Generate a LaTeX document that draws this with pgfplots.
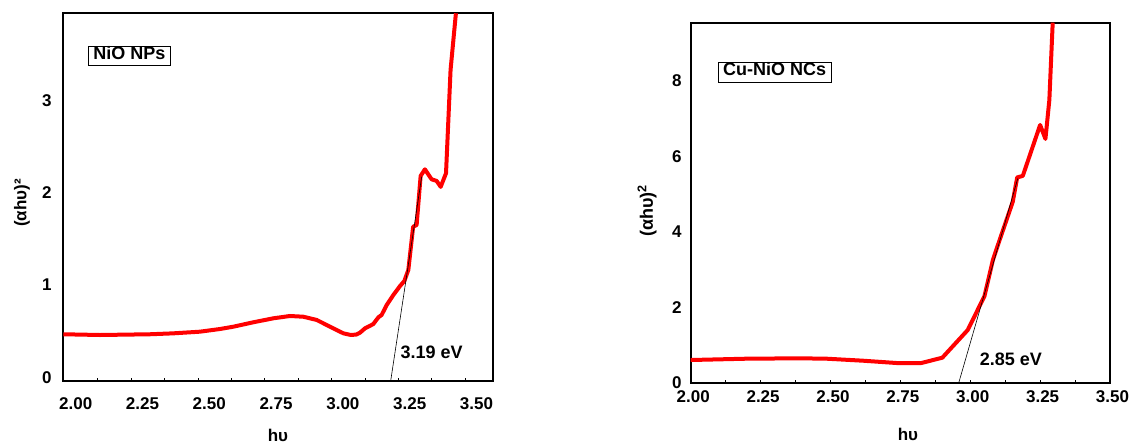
\documentclass[border=0pt]{standalone}
\usepackage{pgfplots}
\pgfplotsset{compat=1.18}
\usepackage{fontspec}
\setmainfont{Liberation Sans}
\newcommand\tickf{\fontsize{17}{20}\selectfont\bfseries}
\newcommand\labf{\fontsize{18}{21}\selectfont\bfseries}
\begin{document}
\begin{tikzpicture}
\path[use as bounding box] (0,0) rectangle (1131pt,444pt);
% ---------- left panel ----------
\begin{axis}[
  at={(63.3pt,63.3pt)}, anchor=south west,
  scale only axis, width=429.2pt, height=367.4pt,
  xmin=1.9536, xmax=3.560, ymin=0, ymax=3.98,
  axis line style={line width=2pt},
  xtick={2,2.25,2.5,2.75,3,3.25,3.5},
  xticklabels={2.00,2.25,2.50,2.75,3.00,3.25,3.50},
  minor xtick={2.083,2.208,2.333,2.458,2.583,2.708,2.833,2.958,3.083,3.208,3.333,3.458},
  xtick pos=left, tick align=inside,
  major tick length=0pt, minor tick length=3pt,
  minor tick style={line width=0.8pt, black},
  ytick={0,1,2,3}, yticklabels={0,1,2,3},
  ytick style={draw=none},
  xticklabel style={anchor=center, yshift=-22.6pt, font=\tickf},
  yticklabel style={anchor=east, inner sep=0pt, xshift=-11.6pt, yshift=3.5pt, font=\tickf},
  xlabel={hυ},
  xlabel style={at={(axis description cs:0.5,-0.148)}, anchor=center, font=\tickf},
  ylabel={(αhυ)²},
  ylabel style={at={(axis description cs:-0.0962,0.4837)}, anchor=center, font=\tickf},
]
\addplot[red, line width=4pt, line join=round] coordinates {
(1.954,0.503) (2.091,0.495) (2.278,0.503) (2.365,0.513) (2.465,0.531) (2.540,0.560)
(2.590,0.585) (2.665,0.633) (2.740,0.676) (2.802,0.701) (2.852,0.693) (2.902,0.658)
(2.952,0.585) (3.002,0.513) (3.030,0.495) (3.050,0.500) (3.064,0.520) (3.083,0.568)
(3.095,0.585) (3.114,0.614) (3.133,0.687) (3.145,0.712) (3.164,0.820) (3.189,0.929)
(3.214,1.026) (3.230,1.080) (3.245,1.200) (3.263,1.668) (3.276,1.687) (3.291,2.218)
(3.307,2.290) (3.332,2.182) (3.351,2.164) (3.366,2.100) (3.386,2.247) (3.403,3.366)
(3.423,3.98)
};
\addplot[black, line width=0.6pt] coordinates {(3.179,0) (3.295,2.21)};
\node[draw=black, line width=0.6pt, inner xsep=5pt, inner ysep=6pt, text height=0.72em, text depth=0pt, font=\labf]
  at (axis description cs:0.154,0.885) {NiO NPs};
\node[font=\labf] at (axis cs:3.332,0.311) {3.19 eV};
\end{axis}
% ---------- right panel ----------
\begin{axis}[
  at={(690.7pt,61.3pt)}, anchor=south west,
  scale only axis, width=419.3pt, height=360pt,
  xmin=2, xmax=3.5, ymin=0, ymax=9.54,
  axis line style={line width=2pt},
  xtick={2,2.25,2.5,2.75,3,3.25,3.5},
  xticklabels={2.00,2.25,2.50,2.75,3.00,3.25,3.50},
  minor xtick={2.125,2.375,2.625,2.875,3.125,3.375},
  xtick pos=left, tick align=inside,
  major tick length=3pt, minor tick length=3pt,
  major tick style={line width=0.8pt, black},
  minor tick style={line width=0.8pt, black},
  ytick={0,2,4,6,8}, yticklabels={0,2,4,6,8},
  ytick style={draw=none},
  xticklabel style={anchor=center, yshift=-14pt, xshift=2.5pt, font=\tickf},
  yticklabel style={anchor=east, inner sep=0pt, xshift=-9pt, font=\tickf},
  xlabel={hυ},
  xlabel style={at={(axis description cs:0.518,-0.145)}, anchor=center, font=\tickf},
  ylabel={(αhυ)\textsuperscript{2}},
  ylabel style={at={(axis description cs:-0.104,0.477)}, anchor=center, font=\labf},
]
\addplot[red, line width=4pt, line join=round] coordinates {
(2.000,0.601) (2.200,0.636) (2.390,0.646) (2.486,0.636) (2.616,0.583) (2.736,0.522)
(2.825,0.522) (2.900,0.662) (2.991,1.396) (3.051,2.297) (3.081,3.250) (3.105,3.780)
(3.152,4.790) (3.168,5.440) (3.188,5.480) (3.250,6.830) (3.269,6.460) (3.283,7.490)
(3.295,9.54)
};
\addplot[black, line width=0.6pt] coordinates {(2.959,0) (3.170,5.41)};
\node[draw=black, line width=0.6pt, inner xsep=5pt, inner ysep=6pt, text height=0.72em, text depth=0pt, font=\labf]
  at (axis description cs:0.2,0.862) {Cu-NiO NCs};
\node[font=\labf] at (axis cs:3.145,0.609) {2.85 eV};
\end{axis}
\end{tikzpicture}
\end{document}
